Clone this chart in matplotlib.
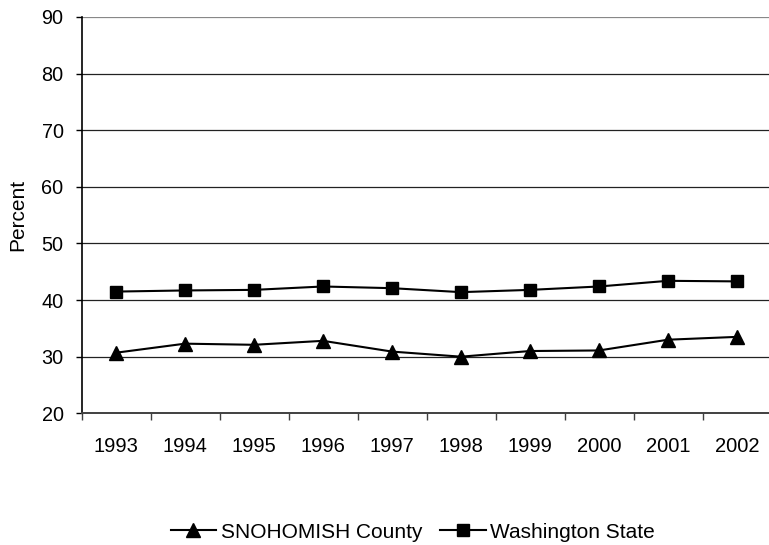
import matplotlib
matplotlib.use("Agg")
import matplotlib.pyplot as plt

years = ["1993", "1994", "1995", "1996", "1997", "1998", "1999", "2000", "2001", "2002"]
snohomish = [30.7, 32.3, 32.1, 32.8, 30.9, 30.0, 31.0, 31.1, 33.0, 33.5]
washington = [41.5, 41.7, 41.8, 42.4, 42.1, 41.4, 41.8, 42.4, 43.4, 43.3]
yticks = [20, 30, 40, 50, 60, 70, 80, 90]

plt.rcParams['font.family'] = ['Liberation Sans', 'DejaVu Sans']

W, H = 769, 545
fig = plt.figure(figsize=(W / 100, H / 100), dpi=100)
left, right, top, bottom = 81.5, 771.5, 17, 413.3
ax = fig.add_axes([left / W, 1 - bottom / H, (right - left) / W, (bottom - top) / H])

x = list(range(len(years)))
ax.plot(x, snohomish, color='black', lw=1.5, marker='^', markersize=9.5, label='SNOHOMISH County')
ax.plot(x, washington, color='black', lw=1.5, marker='s', markersize=9.3, label='Washington State')

ax.set_xlim(-0.5, len(years) - 0.5)
ax.set_ylim(20, 90)
ax.set_yticks(yticks)
ax.set_yticklabels([str(v) for v in yticks], fontsize=14.3)
ax.set_xticks([i - 0.5 for i in range(len(years) + 1)])
ax.set_xticklabels([])
ax.set_xticks(x, minor=True)
ax.set_xticklabels(years, minor=True, fontsize=14.5)
ax.tick_params(axis='x', which='minor', length=0, pad=17)
ax.tick_params(axis='x', which='major', length=5, width=1, color='#404040', direction='out')
ax.tick_params(axis='y', length=4.3, width=1, direction='out', pad=8.6)

for v in yticks[1:]:
    ax.axhline(v, color='#222222' if v < 90 else '#888888', lw=0.9, zorder=0)

for s in ['top', 'right']:
    ax.spines[s].set_visible(False)
ax.spines['left'].set_linewidth(1.2)
ax.spines['bottom'].set_color('#404040')
ax.spines['bottom'].set_linewidth(1.4)

fig.text(18 / W, 1 - 215 / H, 'Percent', rotation=90, ha='center', va='center', fontsize=15)

fig.legend(loc='center', bbox_to_anchor=(412.5 / W, 1 - 532 / H), ncol=2, frameon=False,
           fontsize=15, handlelength=2.2, handletextpad=0.2, columnspacing=0.85)

fig.savefig('out.png', dpi=100)
